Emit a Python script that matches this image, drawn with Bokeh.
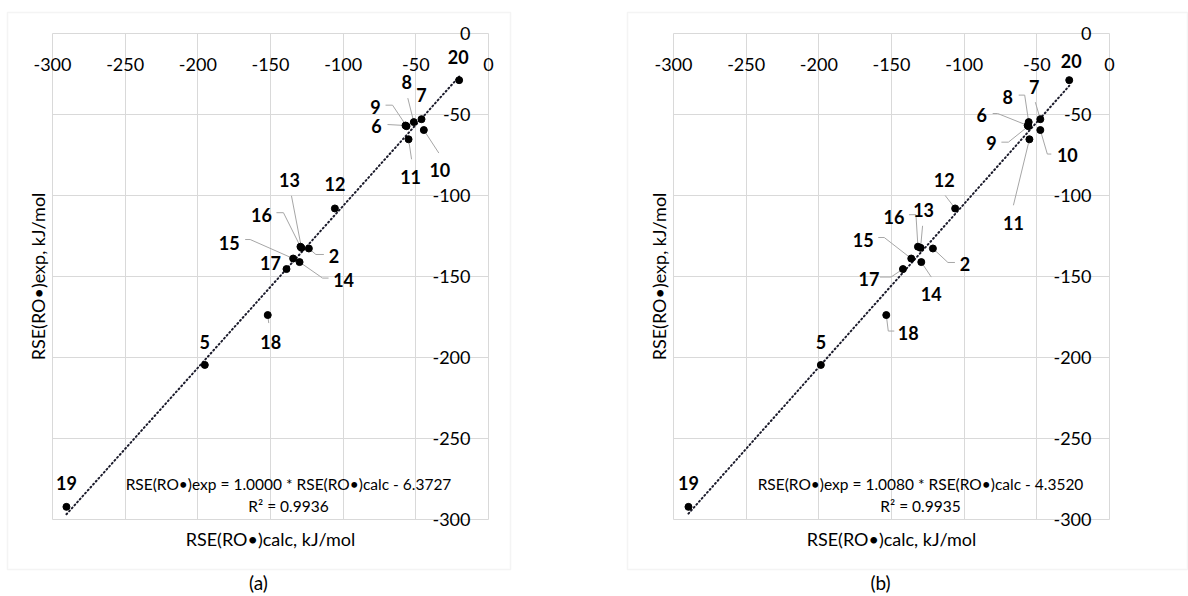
from bokeh.plotting import figure
from bokeh.models import (LinearAxis, FixedTicker, BoxAnnotation, Label, Grid,
                          ColumnDataSource, Range1d)
from bokeh.layouts import row
from bokeh.embed import file_html
from bokeh.resources import INLINE
from bokeh.core.properties import value

# ---------------- data ----------------
compounds = ["2", "5", "6", "7", "8", "9", "10", "11", "12", "13",
             "14", "15", "16", "17", "18", "19", "20"]
rse_exp = [-132.7, -204.6, -56.8, -52.9, -54.7, -57.2, -59.6, -65.3, -108.0, -132.3,
           -141.1, -138.9, -131.6, -145.4, -173.8, -292.2, -28.8]
rse_calc_a = [-123.6, -195.2, -57.1, -46.1, -51.4, -56.4, -44.5, -55.0, -105.7, -128.7,
              -130.0, -134.4, -129.4, -139.0, -151.9, -290.4, -20.2]
rse_calc_b = [-121.5, -198.6, -56.3, -47.6, -55.6, -55.8, -47.6, -55.1, -106.2, -130.0,
              -129.5, -136.4, -131.8, -142.1, -153.6, -289.7, -27.7]
fit_a = {"slope": 1.0000, "intercept": -6.3727, "r2": 0.9936}
fit_b = {"slope": 1.0080, "intercept": -4.3520, "r2": 0.9935}
tick_values = [-300, -250, -200, -150, -100, -50, 0]
tick_labels = ["-300", "-250", "-200", "-150", "-100", "-50", "0"]
x_title = "RSE(RO•)calc, kJ/mol"
y_title = "RSE(RO•)exp, kJ/mol"

# ---------------- layout (pixels) ----------------
W, H = 594, 596
FW, FH = 436, 486          # plot-area size
TOP = 33                   # plot-area top
SX, SY = FW / 300.0, FH / 300.0
FONT = "Lato"
GRID = "#d9d9d9"

label_off_a = {"2": (25, 8), "5": (0, -23), "6": (-29, 0), "7": (0, -24), "8": (-7, -40),
               "9": (-31, -19), "10": (16, 40), "11": (2, 38), "12": (0, -24), "13": (-12, -68),
               "14": (44, 18), "15": (-64, -16), "16": (-39, -32), "17": (-16, -6),
               "18": (3, 27), "19": (0, -24), "20": (-1, -23)}
leader_a = {"2": [(15, 6), (7, 6)], "6": [(-18, -1)], "8": [(-6, -24)],
            "9": [(-21, -21), (-14, -21)], "10": [(15, 23)], "11": [(3, 20)],
            "13": [(-10, -52)], "14": [(29, 16), (23, 16)], "15": [(-48, -19), (-43, -19)],
            "16": [(-24, -34), (-17, -34)], "18": [(1, 8)]}
label_off_b = {"2": (32, 16), "5": (0, -23), "6": (-46, -11), "7": (-6, -32), "8": (-21, -25),
               "9": (-37, 17), "10": (27, 25), "11": (-16, 84), "12": (-11, -28), "13": (3, -38),
               "14": (10, 32), "15": (-48, -19), "16": (-24, -30), "17": (-34, 10),
               "18": (22, 18), "19": (0, -24), "20": (2, -19)}
leader_b = {"2": [(22, 14), (15, 14)], "6": [(-35, -12), (-30, -12)], "7": [(-5, -17)],
            "8": [(-10, -27), (-4, -27)], "9": [(-27, 16), (-20, 16)], "10": [(11, 24), (7, 24)],
            "11": [(-16, 66)], "12": [(-10, -13)], "13": [(2, -22)], "14": [(10, 15)],
            "15": [(-33, -21), (-27, -21)], "16": [(-9, -32), (-2, -32)],
            "17": [(-23, 8), (-12, 8)], "18": [(8, 16), (2, 16)]}


def make_panel(calc, fit, caption, label_off, leaders, left, box, eq_pos, r2_pos, cap_pos):
    def px(xp, yp):
        # canvas pixel -> data coordinates of this panel
        return -300 + (xp - left) / SX, -(yp - TOP) / SY

    x0, y1 = px(0, 0)
    x1, y0 = px(W, H)
    p = figure(width=W, height=H, x_range=Range1d(x0, x1), y_range=Range1d(y0, y1),
               output_backend="svg", toolbar_location=None,
               x_axis_type=None, y_axis_type=None,
               min_border=0, min_border_left=0, min_border_right=0,
               min_border_top=0, min_border_bottom=0,
               outline_line_color=None, background_fill_color="white",
               border_fill_color="white")

    # grid (plot-area border is given by the -300 and 0 lines)
    for dim in (0, 1):
        p.add_layout(Grid(dimension=dim, ticker=FixedTicker(ticks=tick_values),
                          bounds=(-300, 0), cross_bounds=(-300, 0),
                          grid_line_color=GRID, grid_line_width=1))

    # tick-label axes crossing at 0
    overrides = {v: s for v, s in zip(tick_values, tick_labels)}
    common = dict(ticker=FixedTicker(ticks=tick_values), fixed_location=0, bounds=(-300, 0),
                  major_label_overrides=overrides,
                  axis_line_color=None, major_tick_line_color=None, minor_tick_line_color=None,
                  major_tick_out=0, major_tick_in=0, minor_tick_out=0, minor_tick_in=0,
                  major_label_text_font=FONT, major_label_text_font_size="18px",
                  major_label_text_color="black")
    p.add_layout(LinearAxis(major_label_standoff=24, **common), "below")
    p.add_layout(LinearAxis(major_label_standoff=18, **common), "left")

    # axis titles
    for loc, text, standoff in (("left", y_title, 4), ("below", x_title, 8)):
        t = LinearAxis(ticker=FixedTicker(ticks=[]), axis_label=text, fixed_location=-300,
                       bounds=(-300, 0),
                       axis_line_color=None, major_tick_line_color=None,
                       minor_tick_line_color=None, major_tick_out=0, minor_tick_out=0,
                       major_tick_in=0, minor_tick_in=0, axis_label_standoff=standoff,
                       axis_label_text_font=FONT, axis_label_text_font_size="18px",
                       axis_label_text_font_style="normal", axis_label_text_color="black")
        p.add_layout(t, loc)

    # outer border box
    bl, bt = px(box[0], box[2])
    br, bb = px(box[1], box[3])
    p.add_layout(BoxAnnotation(left=bl, right=br, top=bt, bottom=bb,
                               fill_color=None, line_color=GRID, line_width=1.5))

    # leader lines
    xs, ys = [], []
    for c, xv, yv in zip(compounds, calc, rse_exp):
        if c in leaders:
            pts = leaders[c] + [(0, 0)]
            xs.append([xv + dx / SX for dx, dy in pts])
            ys.append([yv - dy / SY for dx, dy in pts])
    p.multi_line(xs=xs, ys=ys, line_color="#a6a6a6", line_width=1)

    # trendline
    xmin, xmax = min(calc), max(calc)
    p.line(x=[xmin, xmax],
           y=[fit["slope"] * xmin + fit["intercept"], fit["slope"] * xmax + fit["intercept"]],
           line_color="#1b1b2b", line_width=2, line_dash="1 3", line_cap="round")

    # points
    p.scatter(x=calc, y=rse_exp, size=7, marker="circle",
              fill_color="black", line_color="black")

    # point labels
    lx = [xv + label_off[c][0] / SX for c, xv in zip(compounds, calc)]
    ly = [yv - label_off[c][1] / SY for c, yv in zip(compounds, rse_exp)]
    src = ColumnDataSource(dict(x=lx, y=ly, t=compounds))
    p.text(x="x", y="y", text="t", source=src, text_font=value(FONT),
           text_font_style="bold", text_font_size="18px", text_color="black",
           text_align="center", text_baseline="middle")

    # equation
    eq = "RSE(RO•)exp = %.4f * RSE(RO•)calc - %.4f" % (fit["slope"], -fit["intercept"])
    for txt, pos in ((eq, eq_pos), ("R² = %.4f" % fit["r2"], r2_pos)):
        ex, ey = px(*pos)
        p.add_layout(Label(x=ex, y=ey, text=txt, text_font=FONT, text_font_size="15.5px",
                           text_color="black", text_align="center", text_baseline="middle"))

    # caption
    cx, cy = px(*cap_pos)
    p.add_layout(Label(x=cx, y=cy, text=caption, text_font=FONT, text_font_size="19px",
                       text_color="black", text_align="center", text_baseline="middle"))
    return p


pa = make_panel(rse_calc_a, fit_a, "(a)", label_off_a, leader_a, 52,
                (7, 510, 12, 569), (288, 483), (288, 505), (258, 582))
pb = make_panel(rse_calc_b, fit_b, "(b)", label_off_b, leader_b, 79,
                (33, 593, 12, 569), (326, 483), (326, 505), (286, 582))

layout = row(pa, pb, spacing=0)
open("out.html", "w").write(file_html(layout, INLINE))
